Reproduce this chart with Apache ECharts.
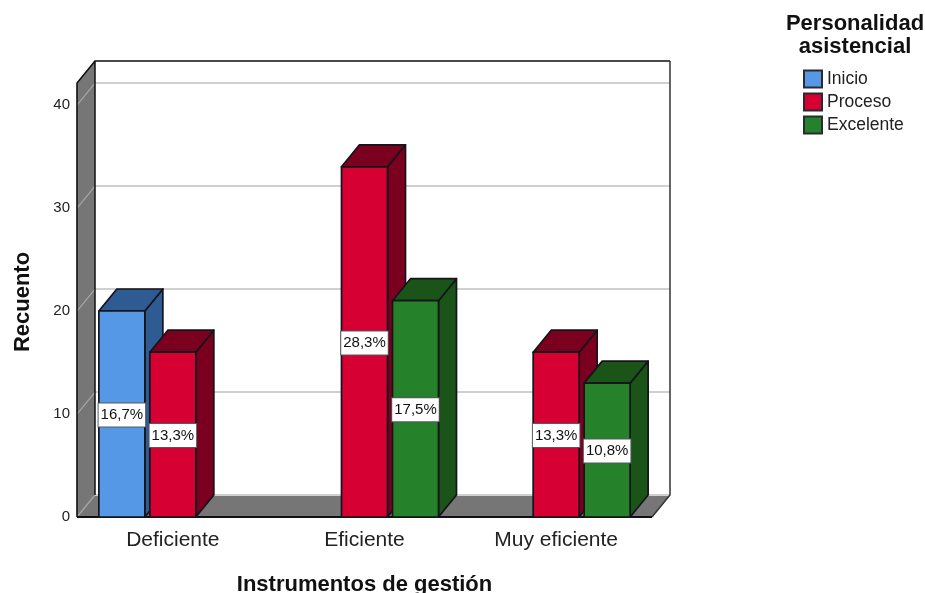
<!DOCTYPE html>
<html>
<head>
<meta charset="utf-8">
<style>html,body{margin:0;padding:0;background:#fff}#chart{width:925px;height:593px}</style>
<script src="https://cdn.jsdelivr.net/npm/echarts@6/dist/echarts.min.js"></script>
</head>
<body>
<div id="chart"></div>
<script>
// Recuento by instrument rating and personality level
const categories = ['Deficiente', 'Eficiente', 'Muy eficiente'];
const inicio = [20, null, null];
const proceso = [16, 34, 16];
const excelente = [null, 21, 13];
const inicioPct = ['16,7%', null, null];
const procesoPct = ['13,3%', '28,3%', '13,3%'];
const excelentePct = [null, '17,5%', '10,8%'];
const yTicks = [0, 10, 20, 30, 40];

const FONT = '"Liberation Sans", Arial, sans-serif';
const DEPTH_X = 18, DEPTH_Y = 22;   // oblique offset of the box
const SLOT = 0.266, BAR = 0.24;     // fractions of a category band

// Back wall, side wall, floor and gridlines of the oblique box
function renderBox(params, api) {
  const r = params.coordSys;
  const l = r.x, t = r.y, rgt = r.x + r.width, b = r.y + r.height;
  const dx = DEPTH_X, dy = DEPTH_Y;
  const wall = { fill: '#767676', stroke: null };
  const children = [
    { type: 'polygon', shape: { points: [[l + dx, t - dy], [rgt + dx, t - dy], [rgt + dx, b - dy], [l + dx, b - dy]] }, style: { fill: '#fff' } },
    { type: 'polygon', shape: { points: [[l, t], [l + dx, t - dy], [l + dx, b - dy], [l, b]] }, style: wall },
    { type: 'polygon', shape: { points: [[l, b], [l + dx, b - dy], [rgt + dx, b - dy], [rgt, b]] }, style: wall }
  ];
  yTicks.forEach(v => {
    const y = api.coord([0, v])[1];
    children.push({
      type: 'line',
      shape: { x1: l, y1: y, x2: l + dx, y2: y - dy },
      style: { stroke: '#a6a6a6', lineWidth: 1.2 }
    });
    children.push({
      type: 'line',
      shape: { x1: l + dx, y1: y - dy, x2: rgt + dx, y2: y - dy },
      style: { stroke: '#d0d0d0', lineWidth: 2 }
    });
  });
  const edge = (pts, color, w) => children.push({
    type: 'polyline', shape: { points: pts },
    style: { fill: null, stroke: color, lineWidth: w }
  });
  edge([[l, b], [l, t], [l + dx, t - dy], [rgt + dx, t - dy]], '#111', 1.6);
  edge([[rgt + dx, t - dy], [rgt + dx, b - dy], [rgt, b]], '#333', 1.5);
  edge([[l, b], [rgt, b]], '#111', 2);
  edge([[l + dx, t - dy], [l + dx, b - dy]], '#111', 1.5);
  return { type: 'group', children };
}

// One oblique bar with its front, side and top faces plus a value tag
function barRenderer(slotIndex, front, dark, labels) {
  return function (params, api) {
    const cat = api.value(0), val = api.value(1);
    const band = api.size([1, 0])[0];
    const base = api.coord([cat, 0]);
    const top = api.coord([cat, val]);
    const w = band * BAR;
    const x0 = base[0] + (slotIndex - 1) * band * SLOT - w / 2;
    const x1 = x0 + w, yT = top[1], yB = base[1];
    const dx = DEPTH_X, dy = DEPTH_Y;
    const line = { stroke: '#14141a', lineWidth: 1.7, lineJoin: 'round' };
    return {
      type: 'group',
      children: [
        { type: 'polygon', shape: { points: [[x1, yT], [x1 + dx, yT - dy], [x1 + dx, yB - dy], [x1, yB]] }, style: { fill: dark, ...line } },
        { type: 'polygon', shape: { points: [[x0, yT], [x0 + dx, yT - dy], [x1 + dx, yT - dy], [x1, yT]] }, style: { fill: dark, ...line } },
        { type: 'rect', shape: { x: x0, y: yT, width: w, height: yB - yT }, style: { fill: front, ...line } },
        {
          type: 'text', z2: 50,
          style: {
            x: (x0 + x1) / 2, y: (yT + yB) / 2 + 1,
            text: labels[cat], align: 'center', verticalAlign: 'middle',
            font: '15px ' + FONT, fill: '#111',
            backgroundColor: '#fff', borderColor: '#55585c', borderWidth: 1,
            padding: [4, 2, 4, 2]
          }
        }
      ]
    };
  };
}

const toPoints = arr => arr.map((v, i) => v === null ? null : [i, v]).filter(Boolean);

const barSeries = (name, values, slotIndex, front, dark, labels) => ({
  type: 'custom', name, z: 5,
  coordinateSystem: 'cartesian2d',
  encode: { x: 0, y: 1 },
  data: toPoints(values),
  itemStyle: { color: front, borderColor: '#2a2a30', borderWidth: 1.5 },
  renderItem: barRenderer(slotIndex, front, dark, labels)
});

const chart = echarts.init(document.getElementById('chart'));
chart.setOption({
  animation: false,
  backgroundColor: '#fff',
  textStyle: { fontFamily: FONT },
  title: {
    text: 'Personalidad\nasistencial',
    left: 850, top: 7, textAlign: 'center',
    textStyle: { fontFamily: FONT, fontWeight: 'bold', fontSize: 22, lineHeight: 23, color: '#111' }
  },
  legend: {
    orient: 'vertical', left: 803, top: 66, padding: 0,
    itemWidth: 18, itemHeight: 17, itemGap: -3,
    icon: 'rect',
    data: ['Inicio', 'Proceso', 'Excelente'],
    textStyle: { fontFamily: FONT, fontSize: 17.5, lineHeight: 17, color: '#222', padding: [9, 0, 0, 0] }
  },
  grid: { left: 77, right: 273, top: 83, bottom: 76, outerBoundsMode: 'none' },
  xAxis: {
    type: 'category', data: categories,
    name: 'Instrumentos de gestión', nameLocation: 'middle', nameGap: 57,
    nameTextStyle: { fontFamily: FONT, fontWeight: 'bold', fontSize: 22, color: '#111' },
    axisLine: { show: false }, axisTick: { show: false },
    axisLabel: { fontFamily: FONT, fontSize: 21, color: '#222', margin: 13 }
  },
  yAxis: {
    type: 'value', min: 0, max: 42.14, interval: 10,
    name: 'Recuento', nameLocation: 'middle', nameGap: 43,
    nameTextStyle: { fontFamily: FONT, fontWeight: 'bold', fontSize: 22, color: '#111', padding: [0, 4, 0, 0] },
    axisLine: { show: false }, axisTick: { show: false }, splitLine: { show: false },
    axisLabel: {
      fontFamily: FONT, fontSize: 15, color: '#222', margin: 7, padding: [9, 0, 0, 0],
      formatter: v => yTicks.includes(v) ? String(v) : ''
    }
  },
  series: [
    { type: 'custom', name: 'box', z: 1, silent: true, coordinateSystem: 'cartesian2d', encode: { x: 0, y: 1 }, data: [[0, 0]], renderItem: renderBox },
    barSeries('Inicio', inicio, 0, '#5598e6', '#2f5b93', inicioPct),
    barSeries('Proceso', proceso, 1, '#d60032', '#7b0020', procesoPct),
    barSeries('Excelente', excelente, 2, '#25812a', '#1a5418', excelentePct)
  ]
});
</script>
</body>
</html>
